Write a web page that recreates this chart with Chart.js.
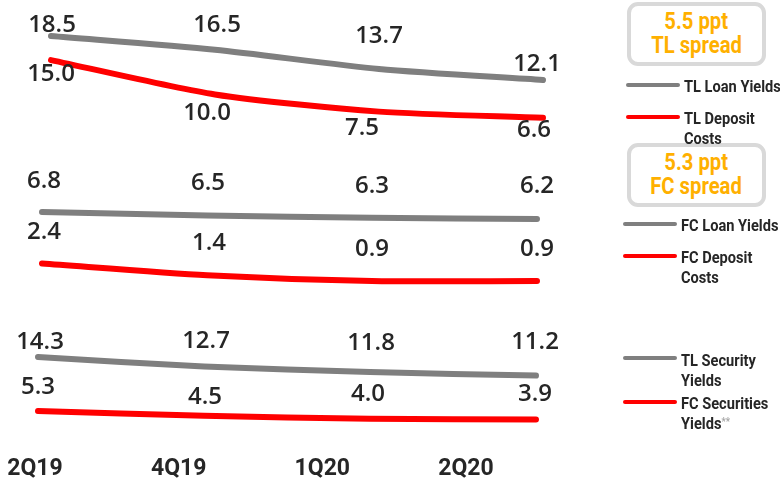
<!DOCTYPE html>
<html>
<head>
<meta charset="utf-8">
<script src="https://cdn.jsdelivr.net/npm/chart.js@4/dist/chart.umd.min.js"></script>
<style>
  html, body { margin: 0; padding: 0; background: #fff; }
  #wrap { position: relative; width: 780px; height: 481px; overflow: hidden; }
  #c { position: absolute; left: 0; top: 0; }
  .spread {
    position: absolute; left: 627px; width: 139px; height: 64px; box-sizing: border-box;
    border: 4px solid #d9d9d9; border-radius: 11px; background: #fff; color: #ffb000;
    font: 700 23px Roboto, 'DejaVu Sans Condensed', sans-serif;
    text-align: center; line-height: 24px; padding-top: 4px;
  }
  .spread span { display: inline-block; transform: scaleX(0.88); transform-origin: center; white-space: nowrap; }
  .key { position: absolute; height: 4px; width: 54px; border-radius: 2px; }
  .ktxt {
    position: absolute; color: #262626; line-height: 18px; white-space: nowrap;
    font: 700 17px Roboto, 'DejaVu Sans Condensed', sans-serif;
    transform: scaleX(0.86); transform-origin: left top;
  }
  .ktxt sup { color: #a6a6a6; font-size: 11px; vertical-align: 4px; line-height: 0; }
</style>
</head>
<body>
<div id="wrap">
  <canvas id="c" width="780" height="481"></canvas>

  <div class="spread" style="top:2px"><span>5.5 ppt</span><br><span>TL spread</span></div>
  <div class="spread" style="top:143px"><span>5.3 ppt</span><br><span>FC spread</span></div>

  <div class="key" style="left:626px;top:83px;background:#7f7f7f"></div>
  <div class="ktxt" style="left:684px;top:76px">TL Loan Yields</div>
  <div class="key" style="left:626px;top:115px;background:#ff0000"></div>
  <div class="ktxt" style="left:684px;top:108px">TL Deposit<br>Costs</div>

  <div class="key" style="left:623px;top:222px;background:#7f7f7f"></div>
  <div class="ktxt" style="left:681px;top:215px">FC Loan Yields</div>
  <div class="key" style="left:623px;top:254px;background:#ff0000"></div>
  <div class="ktxt" style="left:681px;top:247px">FC Deposit<br>Costs</div>

  <div class="key" style="left:623px;top:356px;background:#7f7f7f"></div>
  <div class="ktxt" style="left:681px;top:350px">TL Security<br>Yields</div>
  <div class="key" style="left:623px;top:400px;background:#ff0000"></div>
  <div class="ktxt" style="left:681px;top:393px">FC Securities<br>Yields<sup>**</sup></div>
</div>

<script>
// Quarters and yield / cost series (%)
const quarters = ['2Q19', '4Q19', '1Q20', '2Q20'];
const tlLoanYields = [18.5, 16.5, 13.7, 12.1];
const tlDepositCosts = [15.0, 10.0, 7.5, 6.6];
const fcLoanYields = [6.8, 6.5, 6.3, 6.2];
const fcDepositCosts = [2.4, 1.4, 0.9, 0.9];
const tlSecurityYields = [14.3, 12.7, 11.8, 11.2];
const fcSecuritiesYields = [5.3, 4.5, 4.0, 3.9];

const GREY = '#7f7f7f';
const RED = '#ff0000';

// Plot area in canvas pixels: the quarter axis below takes one 23px label line
const AREA = { left: 0, right: 600, top: 0, bottom: 458 };

// Value range for a panel's hidden axis: anchor value sits at anchorPx, with pxPerUnit scaling
function yRange(anchorValue, anchorPx, pxPerUnit) {
  const max = anchorValue + (anchorPx - AREA.top) / pxPerUnit;
  return { min: max - (AREA.bottom - AREA.top) / pxPerUnit, max };
}
// Index range for a hidden x axis: first quarter at firstPx, last quarter at lastPx
function xRange(firstPx, lastPx) {
  const per = (lastPx - firstPx) / (quarters.length - 1);
  const min = -(firstPx - AREA.left) / per;
  return { min, max: min + (AREA.right - AREA.left) / per };
}

// Value-label nudges [dx, dy] from each point
const labelNudge = {
  'TL Loan Yields': [[1, -11], [2, -25], [0, -33], [-6, -16]],
  'TL Deposit Costs': [[0, 14], [-8, 19], [-17, 17], [-9, 12]],
  'FC Loan Yields': [[2, -31], [1, -32], [0, -32], [0, -33]],
  'FC Deposit Costs': [[2, -31], [2, -32], [0, -32], [0, -32]],
  'TL Security Yields': [[2, -15], [2, -25], [1, -29], [-1, -33]],
  'FC Securities Yields': [[0, -24], [1, -19], [-2, -25], [-1, -25]]
};

const pts = arr => arr.map((v, i) => ({ x: i, y: v }));

function series(label, values, color, xId, yId) {
  return {
    label, data: pts(values), borderColor: color, backgroundColor: color,
    borderWidth: 6, borderCapStyle: 'round', borderJoinStyle: 'round',
    pointRadius: 0, pointHoverRadius: 0, tension: 0.25, fill: false,
    xAxisID: xId, yAxisID: yId
  };
}

const valueLabels = {
  id: 'valueLabels',
  afterDatasetsDraw(chart) {
    const ctx = chart.ctx;
    ctx.save();
    ctx.font = "600 24px 'Open Sans', 'Noto Sans', sans-serif";
    ctx.fillStyle = '#262626';
    ctx.textAlign = 'center';
    ctx.textBaseline = 'middle';
    chart.data.datasets.forEach((ds, i) => {
      const nudge = labelNudge[ds.label];
      chart.getDatasetMeta(i).data.forEach((el, j) => {
        const [dx, dy] = nudge[j];
        ctx.fillText(ds.data[j].y.toFixed(1), el.x + dx, el.y + dy);
      });
    });
    ctx.restore();
  }
};

const hiddenX = r => ({ type: 'linear', axis: 'x', display: false, min: r.min, max: r.max });
const hiddenY = r => ({ type: 'linear', axis: 'y', display: false, min: r.min, max: r.max });
const labelRange = xRange(35, 466);

new Chart(document.getElementById('c'), {
  type: 'line',
  data: {
    datasets: [
      series('TL Loan Yields', tlLoanYields, GREY, 'xTL', 'yTL'),
      series('TL Deposit Costs', tlDepositCosts, RED, 'xTL', 'yTL'),
      series('FC Loan Yields', fcLoanYields, GREY, 'xFC', 'yFC'),
      series('FC Deposit Costs', fcDepositCosts, RED, 'xFC', 'yFC'),
      series('TL Security Yields', tlSecurityYields, GREY, 'xSec', 'ySec'),
      series('FC Securities Yields', fcSecuritiesYields, RED, 'xSec', 'ySec')
    ]
  },
  options: {
    responsive: false,
    animation: false,
    devicePixelRatio: 1,
    layout: { padding: { left: 0, right: 180, top: 0, bottom: 0 } },
    plugins: { legend: { display: false }, tooltip: { enabled: false } },
    scales: {
      x: {
        type: 'linear', position: 'bottom', min: labelRange.min, max: labelRange.max,
        grid: { display: false, drawTicks: false }, border: { display: false },
        afterBuildTicks: scale => { scale.ticks = quarters.map((q, i) => ({ value: i })); },
        ticks: {
          padding: 0, maxRotation: 0, autoSkip: false, color: '#262626',
          font: { family: "Roboto, 'DejaVu Sans Condensed', sans-serif", size: 23, weight: 'bold', lineHeight: 1.0 },
          callback: v => quarters[v]
        }
      },
      y: { display: false, min: 0, max: 1 },
      xTL: hiddenX(xRange(51, 543)),
      xFC: hiddenX(xRange(42, 537)),
      xSec: hiddenX(xRange(38, 536)),
      yTL: hiddenY(yRange(18.5, 36, 6.875)),
      yFC: hiddenY(yRange(6.8, 212, 11.7)),
      ySec: hiddenY(yRange(14.3, 357, 6.0))
    }
  },
  plugins: [valueLabels]
});
</script>
</body>
</html>
